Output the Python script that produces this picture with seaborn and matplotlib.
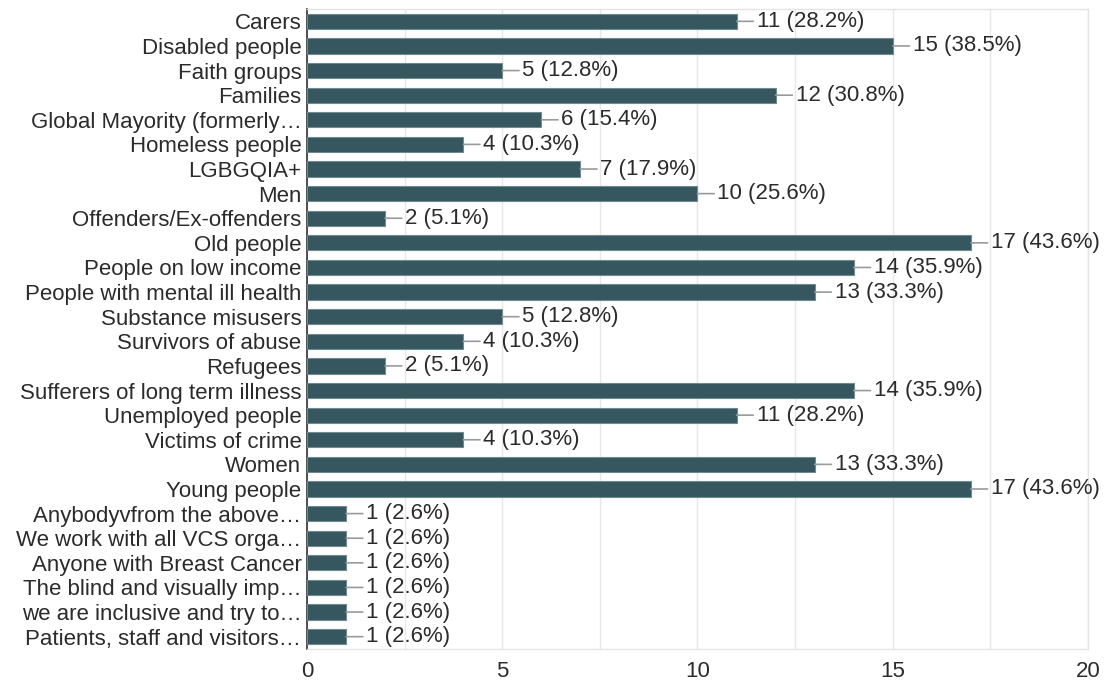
import matplotlib
matplotlib.use("Agg")
import matplotlib.pyplot as plt
import seaborn as sns
import pandas as pd
from matplotlib.ticker import MultipleLocator

categories = [
    "Carers", "Disabled people", "Faith groups", "Families",
    "Global Mayority (formerly\u2026", "Homeless people", "LGBGQIA+", "Men",
    "Offenders/Ex-offenders", "Old people", "People on low income",
    "People with mental ill health", "Substance misusers", "Survivors of abuse",
    "Refugees", "Sufferers of long term illness", "Unemployed people",
    "Victims of crime", "Women", "Young people",
    "Anybodyvfrom the above\u2026", "We work with all VCS orga\u2026",
    "Anyone with Breast Cancer", "The blind and visually imp\u2026",
    "we are inclusive and try to\u2026", "Patients, staff and visitors\u2026",
]
counts = [11, 15, 5, 12, 6, 4, 7, 10, 2, 17, 14, 13, 5, 4, 2, 14, 11, 4, 13, 17,
          1, 1, 1, 1, 1, 1]
percents = [28.2, 38.5, 12.8, 30.8, 15.4, 10.3, 17.9, 25.6, 5.1, 43.6, 35.9, 33.3,
            12.8, 10.3, 5.1, 35.9, 28.2, 10.3, 33.3, 43.6,
            2.6, 2.6, 2.6, 2.6, 2.6, 2.6]
x_ticks = [0, 5, 10, 15, 20]

df = pd.DataFrame({"group": categories, "count": counts, "pct": percents})

sns.set_theme(style="white")
plt.rcParams["font.family"] = ["Liberation Sans", "DejaVu Sans"]

fig = plt.figure(figsize=(11.06, 6.84), dpi=100)
ax = fig.add_axes([0.2776, 0.0512, 0.9837 - 0.2776, 0.9868 - 0.0512])

bar_color = "#36575f"
sns.barplot(data=df, y="group", x="count", orient="h", color=bar_color,
            saturation=1, width=0.62, edgecolor="#6f8a90", linewidth=0.8, ax=ax,
            zorder=3)

FS = 16

# value labels with short connector lines
for i, (c, p) in enumerate(zip(counts, percents)):
    ax.annotate(f"{c} ({p}%)", xy=(c, i), xytext=(20, 0), textcoords="offset pixels",
                ha="left", va="center", fontsize=FS, color="#2b2b2b",
                arrowprops=dict(arrowstyle="-", color="#9a9a9a", lw=1.2,
                                shrinkA=0, shrinkB=0),
                annotation_clip=False, zorder=4)

ax.set_xlim(0, 20)
ax.set_ylim(len(categories) - 0.5, -0.5)
ax.set_xticks(x_ticks)
ax.xaxis.set_minor_locator(MultipleLocator(2.5))
ax.grid(axis="x", which="both", color="#e8e8e8", linewidth=1.0, zorder=0)
ax.set_axisbelow(True)
ax.set_xlabel("")
ax.set_ylabel("")

for side in ("top", "right", "bottom"):
    ax.spines[side].set_color("#e4e4e4")
    ax.spines[side].set_linewidth(1.0)
ax.spines["left"].set_color("#333333")
ax.spines["left"].set_linewidth(1.2)

ax.tick_params(axis="y", which="both", length=0, pad=4, labelsize=FS,
               labelcolor="#2b2b2b")
ax.tick_params(axis="x", which="both", length=0, pad=9, labelsize=FS,
               labelcolor="#2b2b2b")

fig.savefig("out.png", dpi=100)
